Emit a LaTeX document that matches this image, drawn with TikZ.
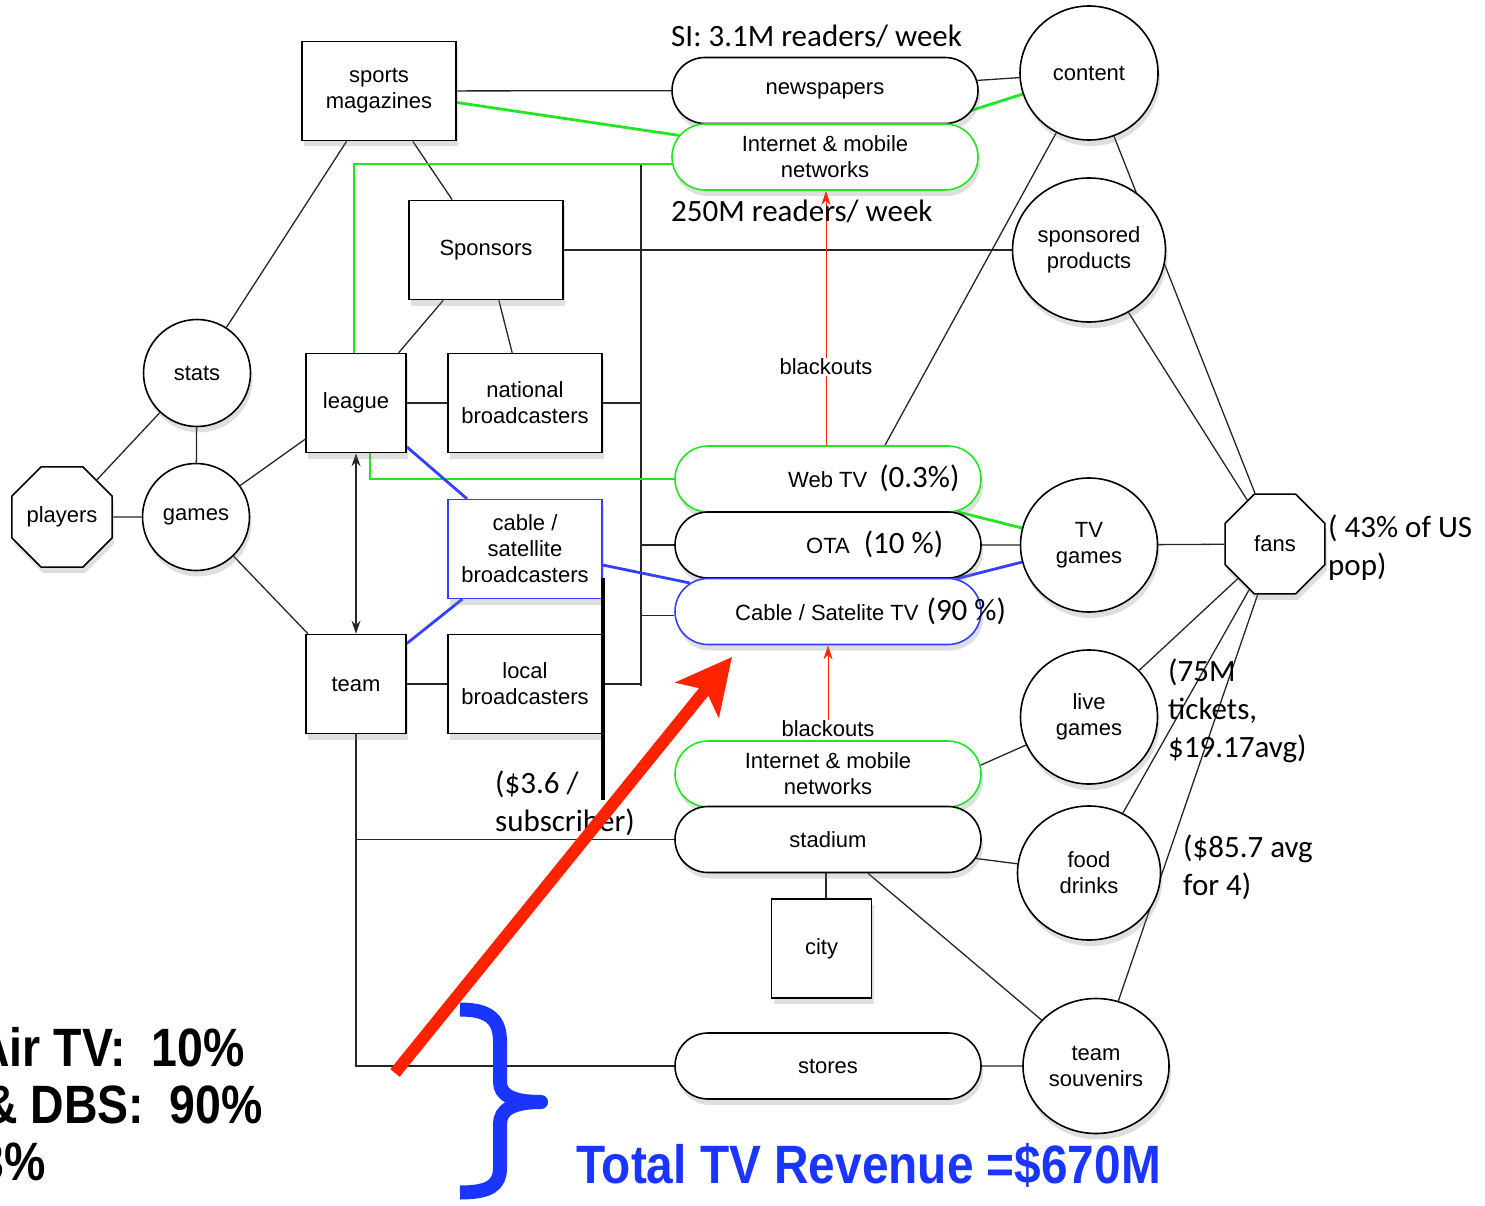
\documentclass[tikz,border=0pt]{standalone}
\usepackage{fontspec}
\setmainfont{Liberation Sans}
\newfontfamily\calfont{Carlito}
\usetikzlibrary{shapes.misc,shapes.geometric,shadows,arrows.meta,calc}
\pgfdeclarelayer{bg}
\pgfsetlayers{bg,main}
\definecolor{gr}{HTML}{22E622}
\definecolor{bl}{HTML}{3340FF}
\definecolor{rd}{HTML}{FF2200}
\definecolor{tb}{HTML}{1A35FF}
\newcommand{\nodesz}{\fontsize{22}{26}\selectfont}
\newcommand{\calsz}{\calfont\fontsize{31}{38}\selectfont}
\newcommand{\boldsz}{\fontsize{54}{60}\selectfont\bfseries}
\newcommand{\leftlines}[1]{\begin{tabular}[t]{@{}l@{}}#1\end{tabular}}
\begin{document}
\begin{tikzpicture}[x=1pt,y=-1pt,
  nodebase/.style={draw=black, line width=1.6pt, fill=white, font=\nodesz, align=center, inner sep=2pt,
    drop shadow={shadow xshift=2pt,shadow yshift=-6pt,opacity=.25}},
  nbox/.style={nodebase, rectangle, minimum width=154pt, minimum height=99pt},
  tbox/.style={nodebase, rectangle, minimum width=100pt, minimum height=99pt},
  ell/.style={nodebase, ellipse},
  pill/.style={nodebase, rounded rectangle, minimum width=310pt, minimum height=66pt},
  oct/.style={nodebase, regular polygon, regular polygon sides=8, minimum size=108pt, inner sep=0pt},
  conn/.style={draw=black!85, line width=1.3pt},
  gline/.style={draw=gr, line width=2.8pt},
  bline/.style={draw=bl, line width=2.8pt},
  lab/.style={inner sep=0pt, anchor=base west, font=\calsz},
  nlab/.style={inner sep=0pt, anchor=base west, font=\nodesz},
  redthin/.style={draw=rd, line width=1pt, -{Stealth[length=14pt,width=9pt]}},
  dblarrow/.style={conn, {Stealth[length=13pt,width=9pt]}-{Stealth[length=13pt,width=9pt]}}
]
\useasboundingbox (0,0) rectangle (1485,1206);

% rectangles
\node[nbox] (sm) at (379,91) {sports\\magazines};
\node[nbox] (sp) at (486,250) {Sponsors};
\node[tbox] (lg) at (356,403) {league};
\node[nbox] (nb) at (525,403) {national\\broadcasters};
\node[nbox, draw=bl, line width=1.3pt] (csb) at (525,549) {cable /\\satellite\\broadcasters};
\node[tbox] (tm) at (356,684) {team};
\node[nbox] (lb) at (525,684) {local\\broadcasters};
\node[tbox] (city) at (821.5,948.5) {city};

% ellipses and octagons
\node[ell, minimum width=107pt, minimum height=107pt] (st) at (197,373) {stats};
\node[ell, minimum width=107pt, minimum height=107pt] (gm) at (196,517) {games};
\node[oct] (pl) at (62,517) {players};
\node[oct] (fans) at (1275,544) {fans};
\node[ell, minimum width=138pt, minimum height=134pt] (ct) at (1089,73) {content};
\node[ell, minimum width=153pt, minimum height=144pt] (spp) at (1089,250) {sponsored\\products};
\node[ell, minimum width=137pt, minimum height=134pt] (tvg) at (1089,545) {TV\\games};
\node[ell, minimum width=137pt, minimum height=134pt] (lvg) at (1089,717) {live\\games};
\node[ell, minimum width=143pt, minimum height=134pt] (fd) at (1089,873) {food\\drinks};
\node[ell, minimum width=146pt, minimum height=135pt] (ts) at (1096,1066) {team\\souvenirs};

% pills
\node[pill] (news) at (825,90.5) {newspapers};
\node[pill, draw=gr] (itop) at (825,157) {Internet \& mobile\\networks};
\node[pill, draw=gr] (wt) at (828,479) {};
\node[pill] (ota) at (828,545) {};
\node[pill, draw=bl] (ctv) at (828,611.5) {};
\node[pill, draw=gr] (ib) at (828,774) {Internet \& mobile\\networks};
\node[pill] (sta) at (828,839.5) {stadium};
\node[pill] (sto) at (828,1066) {stores};

\node[nlab] (wttxt) at (788,487) {Web TV\hspace{12pt}{\calsz (0.3\%)}};
\node[nlab] (otatxt) at (806,553) {OTA\hspace{14pt}{\calsz (10 \%)}};
\node[nlab] (ctvtxt) at (735,620) {Cable / Satelite TV\hspace{8pt}{\calsz (90 \%)}};

% labels
\node[lab] (si) at (671,47) {SI: 3.1M readers/ week};
\node[font=\nodesz, fill=white, inner sep=1pt] (bk1) at (826,367) {blackouts};
\node[font=\nodesz, inner sep=1pt] (bk2) at (828,729) {blackouts};
\node[lab] (pop) at (1328,537) {\leftlines{( 43\% of US\\pop)}};
\node[lab] (tix) at (1168,681) {\leftlines{(75M\\tickets,\\\$19.17avg)}};
\node[lab] (avg) at (1183,857) {\leftlines{(\$85.7 avg\\for 4)}};
\node[lab] (sub) at (495,793) {\leftlines{(\$3.6 /\\subscriber)}};

\coordinate (busT) at (641,164);
\coordinate (busB) at (641,686);

\begin{pgfonlayer}{bg}
\draw[conn] (sm) -- (news);
\draw[conn] (sm) -- (st);
\draw[conn] (sm) -- (sp);
\draw[conn] (sp) -- (spp);
\draw[conn] (sp) -- (lg);
\draw[conn] (sp) -- (nb);
\draw[conn] (lg) -- (nb);
\draw[conn] (lg) -- (gm);
\draw[conn] (st) -- (gm);
\draw[conn] (st) -- (pl);
\draw[conn] (pl) -- (gm);
\draw[conn] (gm) -- (tm);
\draw[conn] (tm) -- (lb);
\draw[dblarrow] (lg) -- (tm);
\draw[conn] (busT) -- (busB);
\draw[conn] (nb.east) -- (nb.east -| busT);
\draw[conn] (lb.east) -- (lb.east -| busT);
\draw[conn] (ota.west) -- (ota.west -| busT);
\draw[conn] ($(ctv.west)+(0,4)$) -- ($(ctv.west -| busT)+(0,4)$);
\draw[conn] (news) -- (ct);
\draw[conn] (ct) -- (fans);
\draw[conn] ($(wt.north)+(57,0)$) -- (ct);
\draw[conn] (spp) -- (fans);
\draw[conn] (ota) -- (tvg);
\draw[conn] (tvg) -- (fans);
\draw[conn] (fans) -- (lvg);
\draw[conn] (fans) -- (fd);
\draw[conn] (fans) -- (ts);
\draw[conn] ($(ib.east)+(-3,-8)$) -- (lvg);
\draw[conn] (sta) -- (fd);
\draw[conn] (sta) -- (ts);
\draw[conn] ($(sta.south)+(-2,0)$) -- ($(sta.south |- city.north)+(-2,0)$);
\draw[conn] (sto) -- (ts);
\draw[conn] (tm.south) |- (sto.west);
\draw[conn] (tm.south |- sta.west) -- (sta.west);
% green
\draw[gline] (sm) -- (itop);
\draw[gline] (itop) -- (ct);
\draw[gline] ($(lg.north)+(-2,0)$) |- ($(itop.west)+(1,7)$);
\draw[gline] ($(lg.south)+(14,0)$) |- (wt.west);
\draw[gline] (wt) -- (tvg);
% blue
\draw[bline] (lg) -- (csb);
\draw[bline] (tm) -- (csb);
\draw[bline] (csb) -- (ctv);
\draw[bline] (ctv) -- (tvg);
% red thin
\draw[redthin] ($(wt.north)+(-2,0)$) -- ($(itop.south)+(1,0)$);
\draw[redthin] (bk2.north) -- (ctv.south);
\end{pgfonlayer}

\node[lab] (rw) at (671,222) {250M readers/ week};

% thick black mark
\coordinate (tkT) at (603,578);
\coordinate (tkB) at (603,800);
\draw[line width=4pt] (tkT) -- (tkB);

% big red arrow
\coordinate (raS) at (395,1073);
\coordinate (raE) at (732,657);
\draw[rd, line width=12pt, -{Stealth[length=55pt,width=55pt,inset=13pt]}] (raS) -- (raE);

% blue brace
\draw[tb, line width=14pt] (541,1102) .. controls (512,1102) and (500,1095) .. (500,1082) -- (500,1042)
  .. controls (500,1020) and (490,1009.5) .. (460,1009.5);
\draw[tb, line width=14pt] (541,1102) .. controls (512,1102) and (500,1110) .. (500,1124) -- (500,1168)
  .. controls (500,1185) and (490,1192.5) .. (460,1192.5);
\fill[tb] (541,1102) circle (7pt);

% bold texts
\begin{scope}
\clip (0,0) rectangle (1485,1206);
\node[inner sep=0pt, anchor=base east, font=\boldsz] (t1) at (245,1066) {\scalebox{0.86}[1]{Air TV:\ \ 10\%}};
\node[inner sep=0pt, anchor=base east, font=\boldsz] (t2) at (263,1123) {\scalebox{0.86}[1]{\& DBS:\ \ 90\%}};
\node[inner sep=0pt, anchor=base east, font=\boldsz] (t3) at (46,1180) {\scalebox{0.86}[1]{3\%}};
\end{scope}
\node[inner sep=0pt, anchor=base west, font=\boldsz, text=tb] (total) at (576,1183) {\scalebox{0.885}[1]{Total TV Revenue =\$670M}};
\end{tikzpicture}
\end{document}
